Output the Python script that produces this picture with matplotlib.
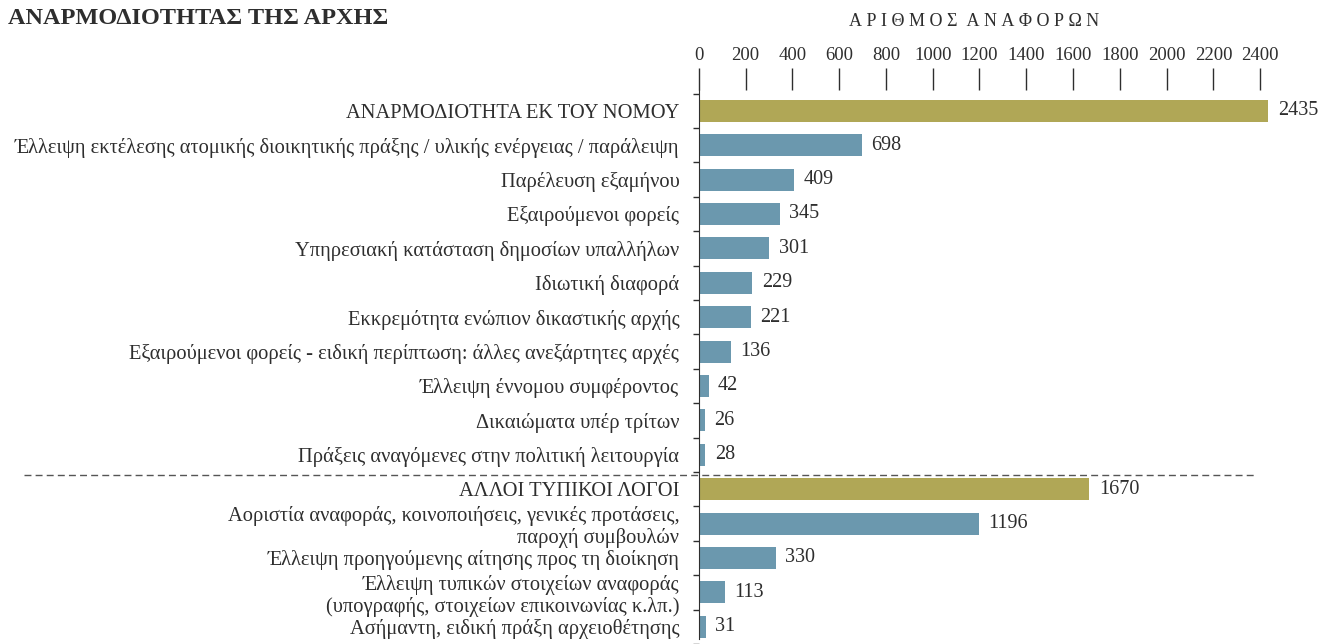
import matplotlib.pyplot as plt
import numpy as np

# dedomena
kathgories = [
    "ΑΝΑΡΜΟΔΙΟΤΗΤΑ ΕΚ ΤΟΥ ΝΟΜΟΥ",
    "Έλλειψη εκτέλεσης ατομικής διοικητικής πράξης / υλικής ενέργειας / παράλειψη",
    "Παρέλευση εξαμήνου",
    "Εξαιρούμενοι φορείς",
    "Υπηρεσιακή κατάσταση δημοσίων υπαλλήλων",
    "Ιδιωτική διαφορά",
    "Εκκρεμότητα ενώπιον δικαστικής αρχής",
    "Εξαιρούμενοι φορείς - ειδική περίπτωση: άλλες ανεξάρτητες αρχές",
    "Έλλειψη έννομου συμφέροντος",
    "Δικαιώματα υπέρ τρίτων",
    "Πράξεις αναγόμενες στην πολιτική λειτουργία",
    "ΑΛΛΟΙ ΤΥΠΙΚΟΙ ΛΟΓΟΙ",
    "Αοριστία αναφοράς, κοινοποιήσεις, γενικές προτάσεις,\nπαροχή συμβουλών",
    "Έλλειψη προηγούμενης αίτησης προς τη διοίκηση",
    "Έλλειψη τυπικών στοιχείων αναφοράς\n(υπογραφής, στοιχείων επικοινωνίας κ.λπ.)",
    "Ασήμαντη, ειδική πράξη αρχειοθέτησης",
]
times = [2435, 698, 409, 345, 301, 229, 221, 136, 42, 26, 28,
         1670, 1196, 330, 113, 31]
synola = [0, 11]  # grammes me synolo (xryso xroma)
ticks_x = list(range(0, 2401, 200))

xryso = "#B0A756"
mple = "#6B98AE"
keimeno = "#2e2e2e"

plt.rcParams["font.family"] = ["Liberation Serif", "DejaVu Serif"]

fig = plt.figure(figsize=(13.21, 6.44), dpi=100)
ax = fig.add_axes([0.529, 0.0, 0.471, 0.860])

y = np.arange(len(times))
xromata = [xryso if i in synola else mple for i in range(len(times))]
ax.barh(y, times, height=0.64, color=xromata)

for yi, v in zip(y, times):
    ax.text(v + 40, yi, str(v), va="center", ha="left", fontsize=14.5, color=keimeno)

ax.set_xlim(0, 2660)
ax.set_ylim(15.35, -0.6)

ax.xaxis.tick_top()
ax.set_xticks(ticks_x)
ax.tick_params(axis="x", direction="out", length=16, width=1, pad=3,
               labelsize=13.5, colors=keimeno, labelcolor=keimeno)

ax.set_yticks(y)
ax.set_yticklabels(kathgories, fontsize=14.8, color=keimeno, linespacing=1.15)
ax.tick_params(axis="y", length=0, pad=14)
ax.set_yticks(np.arange(-0.5, len(times), 1), minor=True)
ax.tick_params(axis="y", which="minor", length=4, width=1, direction="out", color=keimeno)

for s in ["top", "right", "bottom"]:
    ax.spines[s].set_visible(False)
ax.spines["left"].set_color(keimeno)
ax.spines["left"].set_bounds(-0.6, 15.35)

# diaxwristiki grammi
ax.axhline(10.6, xmin=-1.084, xmax=0.894, color="#555555", lw=1,
           linestyle=(0, (5, 3)), clip_on=False)

fig.text(0.006, 0.972, "ΑΝΑΡΜΟΔΙΟΤΗΤΑΣ ΤΗΣ ΑΡΧΗΣ", fontsize=17.5, fontweight="bold",
         color=keimeno, va="center", ha="left")
titlos_axona = "\u2005".join("ΑΡΙΘΜΟΣ") + "\u2002" + "\u2005".join("ΑΝΑΦΟΡΩΝ")
fig.text(0.737, 0.966, titlos_axona, fontsize=13, color=keimeno,
         va="center", ha="center")

fig.savefig("out.png", dpi=100)
